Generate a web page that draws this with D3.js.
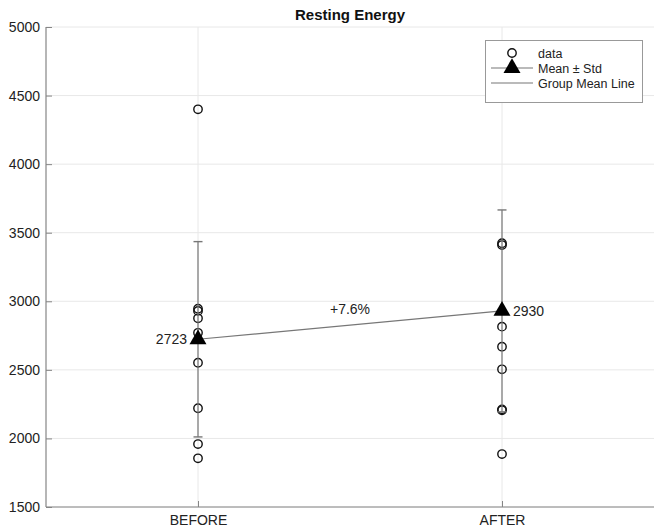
<!DOCTYPE html>
<html><head><meta charset="utf-8">
<script src="https://cdn.jsdelivr.net/npm/d3@7"></script>
<style>body{margin:0;background:#fff;}svg{display:block;font-family:"Liberation Sans",Arial,sans-serif;}</style>
</head><body>
<svg id="c" width="654" height="531"></svg>
<script>
const groups = ["BEFORE", "AFTER"];
const beforeValues = [4400, 2946, 2930, 2876, 2770, 2552, 2220, 1959, 1855];
const afterValues = [4504, 3423, 3410, 2815, 2669, 2504, 2212, 2205, 1886];
const means = [2723, 2930];
const stds = [712, 736];
const yTicks = [1500, 2000, 2500, 3000, 3500, 4000, 4500, 5000];
const title = "Resting Energy";
const changeLabel = "+7.6%";
const legendLabels = ["data", "Mean \u00b1 Std", "Group Mean Line"];

const svg = d3.select("#c");
const W = 654, H = 531;
const m = {l: 46, r: 0, t: 27, b: 24};
const x = d3.scaleLinear().domain([0.5, 2.5]).range([m.l, W - m.r]);
const y = d3.scaleLinear().domain([1500, 5000]).range([H - m.b, m.t]);
const axisColor = "#858585", gridColor = "#e8e8e8", textColor = "#222";

// grid
const g = svg.append("g");
g.selectAll("line.gy").data(yTicks).join("line")
  .attr("x1", m.l).attr("x2", W).attr("y1", d => y(d)).attr("y2", d => y(d))
  .attr("stroke", gridColor).attr("stroke-width", 1);
g.selectAll("line.gx").data(groups).join("line")
  .attr("x1", (d, i) => x(i + 1)).attr("x2", (d, i) => x(i + 1))
  .attr("y1", m.t).attr("y2", H - m.b)
  .attr("stroke", gridColor).attr("stroke-width", 1);

// axes
const yAxis = d3.axisLeft(y).tickValues(yTicks).tickSize(-6).tickPadding(6).tickFormat(d3.format("d"));
const ya = svg.append("g").attr("transform", `translate(${m.l},0)`).call(yAxis);
const xAxis = d3.axisBottom(x).tickValues([1, 2]).tickSize(-6).tickPadding(8).tickFormat((d) => groups[d - 1]);
const xa = svg.append("g").attr("transform", `translate(0,${H - m.b})`).call(xAxis);
[ya, xa].forEach(a => {
  a.select(".domain").attr("stroke", axisColor).attr("stroke-width", 1.2);
  a.selectAll(".tick line").attr("stroke", axisColor);
  a.selectAll(".tick text").attr("fill", textColor).attr("font-size", 14)
    .attr("font-family", "Liberation Sans, Arial, sans-serif");
});
ya.select(".domain").attr("d", `M0,${m.t}V${H - m.b}`);
xa.select(".domain").attr("d", `M${m.l},0H${W}`);

// data points
const allData = [beforeValues, afterValues];
allData.forEach((vals, i) => {
  svg.append("g").selectAll("circle").data(vals).join("circle")
    .attr("cx", x(i + 1)).attr("cy", d => y(d)).attr("r", 4.2)
    .attr("fill", "none").attr("stroke", "#111").attr("stroke-width", 1.4);
});

// error bars
const eb = svg.append("g");
means.forEach((mu, i) => {
  const cx = x(i + 1);
  eb.append("line").attr("x1", cx).attr("x2", cx).attr("y1", y(mu - stds[i])).attr("y2", y(mu + stds[i]))
    .attr("stroke", "#777").attr("stroke-width", 1.2);
  [mu - stds[i], mu + stds[i]].forEach(v => {
    eb.append("line").attr("x1", cx - 4.5).attr("x2", cx + 4.5).attr("y1", y(v)).attr("y2", y(v))
      .attr("stroke", "#777").attr("stroke-width", 1.4);
  });
});

// mean line
svg.append("path")
  .datum(means)
  .attr("d", d3.line().x((d, i) => x(i + 1)).y(d => y(d)))
  .attr("fill", "none").attr("stroke", "#777").attr("stroke-width", 1.2);

// triangles
const tri = d3.symbol().type(d3.symbolTriangle).size(125);
svg.append("g").selectAll("path").data(means).join("path")
  .attr("d", tri)
  .attr("transform", (d, i) => `translate(${x(i + 1)},${y(d)})`)
  .attr("fill", "#000");

// mean labels
svg.append("text").attr("x", x(1) - 11).attr("y", y(means[0]) + 5)
  .attr("text-anchor", "end").attr("font-size", 14).attr("fill", textColor).text(means[0]);
svg.append("text").attr("x", x(2) + 11).attr("y", y(means[1]) + 5)
  .attr("text-anchor", "start").attr("font-size", 14).attr("fill", textColor).text(means[1]);

// change label
svg.append("text").attr("x", (x(1) + x(2)) / 2).attr("y", 314)
  .attr("text-anchor", "middle").attr("font-size", 14).attr("fill", textColor).text(changeLabel);

// title
svg.append("text").attr("x", (m.l + W) / 2).attr("y", 20)
  .attr("text-anchor", "middle").attr("font-size", 15).attr("font-weight", "bold").attr("fill", "#111").text(title);

// legend
const lg = svg.append("g");
lg.append("rect").attr("x", 485.5).attr("y", 40.5).attr("width", 157).attr("height", 62)
  .attr("fill", "#fff").attr("stroke", "#999").attr("stroke-width", 1);
const ly = [53, 68, 83];
lg.append("circle").attr("cx", 512).attr("cy", ly[0]).attr("r", 4.2)
  .attr("fill", "none").attr("stroke", "#111").attr("stroke-width", 1.4);
lg.append("line").attr("x1", 491).attr("x2", 533).attr("y1", ly[1]).attr("y2", ly[1]).attr("stroke", "#777").attr("stroke-width", 1.2);
lg.append("path").attr("d", tri).attr("transform", `translate(512,${ly[1]})`).attr("fill", "#000");
lg.append("line").attr("x1", 491).attr("x2", 533).attr("y1", ly[2]).attr("y2", ly[2]).attr("stroke", "#777").attr("stroke-width", 1.2);
lg.selectAll("text").data(legendLabels).join("text")
  .attr("x", 538).attr("y", (d, i) => ly[i] + 4.5)
  .attr("font-size", 12.5).attr("fill", textColor).text(d => d);
</script>
</body></html>
